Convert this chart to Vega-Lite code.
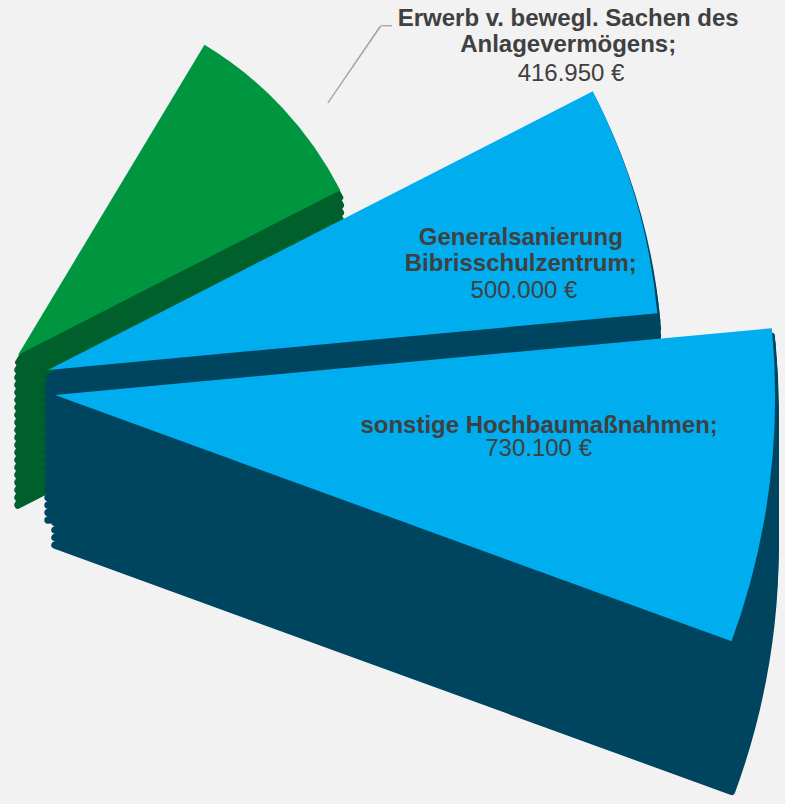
{
"$schema": "https://vega.github.io/schema/vega-lite/v6.json",
"width": 80, "height": 750,
"autosize": "none",
"padding": {"left": 0, "top": 0, "right": 705, "bottom": 54},
"background": "#F2F2F2",
"config": {"view": {"stroke": null}, "locale": {"number": {"decimal": ",", "thousands": ".", "grouping": [3], "currency": ["", "\u00a0€"]}}},
"data": {"values": [
 {"item": "Erwerb v. bewegl. Sachen des Anlagevermögens", "value": 416950, "lines": ["Erwerb v. bewegl. Sachen des", "Anlagevermögens;"]},
 {"item": "Generalsanierung Bibrisschulzentrum", "value": 500000, "lines": ["Generalsanierung", "Bibrisschulzentrum;"]},
 {"item": "sonstige Hochbaumaßnahmen", "value": 730100, "lines": ["sonstige Hochbaumaßnahmen;"]}
]},
"transform": [{"stack": "value", "groupby": [], "as": ["v0", "v1"]}],
"resolve": {"scale": {"theta": "independent", "radius": "independent"}},
"layer": [
 {"encoding": {
   "theta": {"field": "v0", "type": "quantitative", "stack": null, "scale": {"type": "pow", "exponent": 0.66, "domain": [0, 1647050], "range": [0.5411, 1.9199], "nice": false}},
   "theta2": {"field": "v1"},
   "radius": {"field": "value", "type": "quantitative", "scale": {"type": "linear", "domain": [0, 416950, 500000, 730100], "range": [0, 362, 612, 720], "nice": false}}
  },
  "layer": [
   {"transform": [{"filter": "datum.value == 416950"}], "mark": {"type": "arc", "fill": "#00602B", "stroke": "#00602B", "strokeWidth": 7.5, "strokeJoin": "round", "xOffset": -22, "yOffset": 130}},
   {"transform": [{"filter": "datum.value == 416950"}], "mark": {"type": "arc", "fill": "#00602B", "stroke": "#00602B", "strokeWidth": 7.5, "strokeJoin": "round", "xOffset": -22, "yOffset": 122.5}},
   {"transform": [{"filter": "datum.value == 416950"}], "mark": {"type": "arc", "fill": "#00602B", "stroke": "#00602B", "strokeWidth": 7.5, "strokeJoin": "round", "xOffset": -22, "yOffset": 115}},
   {"transform": [{"filter": "datum.value == 416950"}], "mark": {"type": "arc", "fill": "#00602B", "stroke": "#00602B", "strokeWidth": 7.5, "strokeJoin": "round", "xOffset": -22, "yOffset": 107.5}},
   {"transform": [{"filter": "datum.value == 416950"}], "mark": {"type": "arc", "fill": "#00602B", "stroke": "#00602B", "strokeWidth": 7.5, "strokeJoin": "round", "xOffset": -22, "yOffset": 100}},
   {"transform": [{"filter": "datum.value == 416950"}], "mark": {"type": "arc", "fill": "#00602B", "stroke": "#00602B", "strokeWidth": 7.5, "strokeJoin": "round", "xOffset": -22, "yOffset": 92.5}},
   {"transform": [{"filter": "datum.value == 416950"}], "mark": {"type": "arc", "fill": "#00602B", "stroke": "#00602B", "strokeWidth": 7.5, "strokeJoin": "round", "xOffset": -22, "yOffset": 85}},
   {"transform": [{"filter": "datum.value == 416950"}], "mark": {"type": "arc", "fill": "#00602B", "stroke": "#00602B", "strokeWidth": 7.5, "strokeJoin": "round", "xOffset": -22, "yOffset": 77.5}},
   {"transform": [{"filter": "datum.value == 416950"}], "mark": {"type": "arc", "fill": "#00602B", "stroke": "#00602B", "strokeWidth": 7.5, "strokeJoin": "round", "xOffset": -22, "yOffset": 70}},
   {"transform": [{"filter": "datum.value == 416950"}], "mark": {"type": "arc", "fill": "#00602B", "stroke": "#00602B", "strokeWidth": 7.5, "strokeJoin": "round", "xOffset": -22, "yOffset": 62.5}},
   {"transform": [{"filter": "datum.value == 416950"}], "mark": {"type": "arc", "fill": "#00602B", "stroke": "#00602B", "strokeWidth": 7.5, "strokeJoin": "round", "xOffset": -22, "yOffset": 55}},
   {"transform": [{"filter": "datum.value == 416950"}], "mark": {"type": "arc", "fill": "#00602B", "stroke": "#00602B", "strokeWidth": 7.5, "strokeJoin": "round", "xOffset": -22, "yOffset": 47.5}},
   {"transform": [{"filter": "datum.value == 416950"}], "mark": {"type": "arc", "fill": "#00602B", "stroke": "#00602B", "strokeWidth": 7.5, "strokeJoin": "round", "xOffset": -22, "yOffset": 40}},
   {"transform": [{"filter": "datum.value == 416950"}], "mark": {"type": "arc", "fill": "#00602B", "stroke": "#00602B", "strokeWidth": 7.5, "strokeJoin": "round", "xOffset": -22, "yOffset": 32.5}},
   {"transform": [{"filter": "datum.value == 416950"}], "mark": {"type": "arc", "fill": "#00602B", "stroke": "#00602B", "strokeWidth": 7.5, "strokeJoin": "round", "xOffset": -22, "yOffset": 25}},
   {"transform": [{"filter": "datum.value == 416950"}], "mark": {"type": "arc", "fill": "#00602B", "stroke": "#00602B", "strokeWidth": 7.5, "strokeJoin": "round", "xOffset": -22, "yOffset": 17.5}},
   {"transform": [{"filter": "datum.value == 416950"}], "mark": {"type": "arc", "fill": "#00602B", "stroke": "#00602B", "strokeWidth": 7.5, "strokeJoin": "round", "xOffset": -22, "yOffset": 10}},
   {"transform": [{"filter": "datum.value == 416950"}], "mark": {"type": "arc", "fill": "#00602B", "stroke": "#00602B", "strokeWidth": 7.5, "strokeJoin": "round", "xOffset": -22, "yOffset": 2.5}},
   {"transform": [{"filter": "datum.value == 416950"}], "mark": {"type": "arc", "fill": "#00602B", "stroke": "#00602B", "strokeWidth": 7.5, "strokeJoin": "round", "xOffset": -22, "yOffset": -5}},
   {"transform": [{"filter": "datum.value == 416950"}], "mark": {"type": "arc", "fill": "#00602B", "stroke": "#00602B", "strokeWidth": 6, "strokeJoin": "round", "xOffset": -22, "yOffset": -12.5}},
   {"transform": [{"filter": "datum.value == 416950"}], "mark": {"type": "arc", "fill": "#009640", "xOffset": -22, "yOffset": -20}},

   {"transform": [{"filter": "datum.value == 500000"}], "mark": {"type": "arc", "fill": "#00455F", "stroke": "#00455F", "strokeWidth": 7.5, "strokeJoin": "round", "xOffset": 8, "yOffset": 145}},
   {"transform": [{"filter": "datum.value == 500000"}], "mark": {"type": "arc", "fill": "#00455F", "stroke": "#00455F", "strokeWidth": 7.5, "strokeJoin": "round", "xOffset": 8, "yOffset": 137.5}},
   {"transform": [{"filter": "datum.value == 500000"}], "mark": {"type": "arc", "fill": "#00455F", "stroke": "#00455F", "strokeWidth": 7.5, "strokeJoin": "round", "xOffset": 8, "yOffset": 130}},
   {"transform": [{"filter": "datum.value == 500000"}], "mark": {"type": "arc", "fill": "#00455F", "stroke": "#00455F", "strokeWidth": 7.5, "strokeJoin": "round", "xOffset": 8, "yOffset": 122.5}},
   {"transform": [{"filter": "datum.value == 500000"}], "mark": {"type": "arc", "fill": "#00455F", "stroke": "#00455F", "strokeWidth": 7.5, "strokeJoin": "round", "xOffset": 8, "yOffset": 115}},
   {"transform": [{"filter": "datum.value == 500000"}], "mark": {"type": "arc", "fill": "#00455F", "stroke": "#00455F", "strokeWidth": 7.5, "strokeJoin": "round", "xOffset": 8, "yOffset": 107.5}},
   {"transform": [{"filter": "datum.value == 500000"}], "mark": {"type": "arc", "fill": "#00455F", "stroke": "#00455F", "strokeWidth": 7.5, "strokeJoin": "round", "xOffset": 8, "yOffset": 100}},
   {"transform": [{"filter": "datum.value == 500000"}], "mark": {"type": "arc", "fill": "#00455F", "stroke": "#00455F", "strokeWidth": 7.5, "strokeJoin": "round", "xOffset": 8, "yOffset": 92.5}},
   {"transform": [{"filter": "datum.value == 500000"}], "mark": {"type": "arc", "fill": "#00455F", "stroke": "#00455F", "strokeWidth": 7.5, "strokeJoin": "round", "xOffset": 8, "yOffset": 85}},
   {"transform": [{"filter": "datum.value == 500000"}], "mark": {"type": "arc", "fill": "#00455F", "stroke": "#00455F", "strokeWidth": 7.5, "strokeJoin": "round", "xOffset": 8, "yOffset": 77.5}},
   {"transform": [{"filter": "datum.value == 500000"}], "mark": {"type": "arc", "fill": "#00455F", "stroke": "#00455F", "strokeWidth": 7.5, "strokeJoin": "round", "xOffset": 8, "yOffset": 70}},
   {"transform": [{"filter": "datum.value == 500000"}], "mark": {"type": "arc", "fill": "#00455F", "stroke": "#00455F", "strokeWidth": 7.5, "strokeJoin": "round", "xOffset": 8, "yOffset": 62.5}},
   {"transform": [{"filter": "datum.value == 500000"}], "mark": {"type": "arc", "fill": "#00455F", "stroke": "#00455F", "strokeWidth": 7.5, "strokeJoin": "round", "xOffset": 8, "yOffset": 55}},
   {"transform": [{"filter": "datum.value == 500000"}], "mark": {"type": "arc", "fill": "#00455F", "stroke": "#00455F", "strokeWidth": 7.5, "strokeJoin": "round", "xOffset": 8, "yOffset": 47.5}},
   {"transform": [{"filter": "datum.value == 500000"}], "mark": {"type": "arc", "fill": "#00455F", "stroke": "#00455F", "strokeWidth": 7.5, "strokeJoin": "round", "xOffset": 8, "yOffset": 40}},
   {"transform": [{"filter": "datum.value == 500000"}], "mark": {"type": "arc", "fill": "#00455F", "stroke": "#00455F", "strokeWidth": 7.5, "strokeJoin": "round", "xOffset": 8, "yOffset": 32.5}},
   {"transform": [{"filter": "datum.value == 500000"}], "mark": {"type": "arc", "fill": "#00455F", "stroke": "#00455F", "strokeWidth": 7.5, "strokeJoin": "round", "xOffset": 8, "yOffset": 25}},
   {"transform": [{"filter": "datum.value == 500000"}], "mark": {"type": "arc", "fill": "#00455F", "stroke": "#00455F", "strokeWidth": 7.5, "strokeJoin": "round", "xOffset": 8, "yOffset": 17.5}},
   {"transform": [{"filter": "datum.value == 500000"}], "mark": {"type": "arc", "fill": "#00455F", "stroke": "#00455F", "strokeWidth": 7.5, "strokeJoin": "round", "xOffset": 8, "yOffset": 10}},
   {"transform": [{"filter": "datum.value == 500000"}], "mark": {"type": "arc", "fill": "#00455F", "stroke": "#00455F", "strokeWidth": 6, "strokeJoin": "round", "xOffset": 8, "yOffset": 2.5}},
   {"transform": [{"filter": "datum.value == 500000"}], "mark": {"type": "arc", "fill": "#00AEEF", "xOffset": 8, "yOffset": -5}},

   {"transform": [{"filter": "datum.value == 730100"}], "mark": {"type": "arc", "fill": "#00455F", "stroke": "#00455F", "strokeWidth": 7.5, "strokeJoin": "round", "xOffset": 15, "yOffset": 170}},
   {"transform": [{"filter": "datum.value == 730100"}], "mark": {"type": "arc", "fill": "#00455F", "stroke": "#00455F", "strokeWidth": 7.5, "strokeJoin": "round", "xOffset": 15, "yOffset": 162.5}},
   {"transform": [{"filter": "datum.value == 730100"}], "mark": {"type": "arc", "fill": "#00455F", "stroke": "#00455F", "strokeWidth": 7.5, "strokeJoin": "round", "xOffset": 15, "yOffset": 155}},
   {"transform": [{"filter": "datum.value == 730100"}], "mark": {"type": "arc", "fill": "#00455F", "stroke": "#00455F", "strokeWidth": 7.5, "strokeJoin": "round", "xOffset": 15, "yOffset": 147.5}},
   {"transform": [{"filter": "datum.value == 730100"}], "mark": {"type": "arc", "fill": "#00455F", "stroke": "#00455F", "strokeWidth": 7.5, "strokeJoin": "round", "xOffset": 15, "yOffset": 140}},
   {"transform": [{"filter": "datum.value == 730100"}], "mark": {"type": "arc", "fill": "#00455F", "stroke": "#00455F", "strokeWidth": 7.5, "strokeJoin": "round", "xOffset": 15, "yOffset": 132.5}},
   {"transform": [{"filter": "datum.value == 730100"}], "mark": {"type": "arc", "fill": "#00455F", "stroke": "#00455F", "strokeWidth": 7.5, "strokeJoin": "round", "xOffset": 15, "yOffset": 125}},
   {"transform": [{"filter": "datum.value == 730100"}], "mark": {"type": "arc", "fill": "#00455F", "stroke": "#00455F", "strokeWidth": 7.5, "strokeJoin": "round", "xOffset": 15, "yOffset": 117.5}},
   {"transform": [{"filter": "datum.value == 730100"}], "mark": {"type": "arc", "fill": "#00455F", "stroke": "#00455F", "strokeWidth": 7.5, "strokeJoin": "round", "xOffset": 15, "yOffset": 110}},
   {"transform": [{"filter": "datum.value == 730100"}], "mark": {"type": "arc", "fill": "#00455F", "stroke": "#00455F", "strokeWidth": 7.5, "strokeJoin": "round", "xOffset": 15, "yOffset": 102.5}},
   {"transform": [{"filter": "datum.value == 730100"}], "mark": {"type": "arc", "fill": "#00455F", "stroke": "#00455F", "strokeWidth": 7.5, "strokeJoin": "round", "xOffset": 15, "yOffset": 95}},
   {"transform": [{"filter": "datum.value == 730100"}], "mark": {"type": "arc", "fill": "#00455F", "stroke": "#00455F", "strokeWidth": 7.5, "strokeJoin": "round", "xOffset": 15, "yOffset": 87.5}},
   {"transform": [{"filter": "datum.value == 730100"}], "mark": {"type": "arc", "fill": "#00455F", "stroke": "#00455F", "strokeWidth": 7.5, "strokeJoin": "round", "xOffset": 15, "yOffset": 80}},
   {"transform": [{"filter": "datum.value == 730100"}], "mark": {"type": "arc", "fill": "#00455F", "stroke": "#00455F", "strokeWidth": 7.5, "strokeJoin": "round", "xOffset": 15, "yOffset": 72.5}},
   {"transform": [{"filter": "datum.value == 730100"}], "mark": {"type": "arc", "fill": "#00455F", "stroke": "#00455F", "strokeWidth": 7.5, "strokeJoin": "round", "xOffset": 15, "yOffset": 65}},
   {"transform": [{"filter": "datum.value == 730100"}], "mark": {"type": "arc", "fill": "#00455F", "stroke": "#00455F", "strokeWidth": 7.5, "strokeJoin": "round", "xOffset": 15, "yOffset": 57.5}},
   {"transform": [{"filter": "datum.value == 730100"}], "mark": {"type": "arc", "fill": "#00455F", "stroke": "#00455F", "strokeWidth": 7.5, "strokeJoin": "round", "xOffset": 15, "yOffset": 50}},
   {"transform": [{"filter": "datum.value == 730100"}], "mark": {"type": "arc", "fill": "#00455F", "stroke": "#00455F", "strokeWidth": 7.5, "strokeJoin": "round", "xOffset": 15, "yOffset": 42.5}},
   {"transform": [{"filter": "datum.value == 730100"}], "mark": {"type": "arc", "fill": "#00455F", "stroke": "#00455F", "strokeWidth": 7.5, "strokeJoin": "round", "xOffset": 15, "yOffset": 35}},
   {"transform": [{"filter": "datum.value == 730100"}], "mark": {"type": "arc", "fill": "#00455F", "stroke": "#00455F", "strokeWidth": 6, "strokeJoin": "round", "xOffset": 15, "yOffset": 27.5}},
   {"transform": [{"filter": "datum.value == 730100"}], "mark": {"type": "arc", "fill": "#00AEEF", "xOffset": 15, "yOffset": 20}}
  ]
 },
 {"transform": [{"filter": "datum.value == 416950"}],
  "encoding": {
   "theta": {"field": "v0", "type": "quantitative", "stack": null, "scale": {"type": "linear", "domain": [0, 416950], "range": [0.5999, 0.6043], "nice": false, "zero": false}},
   "theta2": {"field": "v1"}
  },
  "mark": {"type": "arc", "fill": "#A6A6A6", "radius": 393, "radius2": 300, "xOffset": 118, "yOffset": -25}
 },
 {"transform": [{"filter": "datum.value == 416950"}],
  "encoding": {
   "theta": {"field": "v0", "type": "quantitative", "stack": null, "scale": {"type": "linear", "domain": [0, 416950], "range": [1.5633, 1.5783], "nice": false, "zero": false}},
   "theta2": {"field": "v1"}
  },
  "mark": {"type": "arc", "fill": "#A6A6A6", "radius": 92, "radius2": 81, "xOffset": 260, "yOffset": -349.3}
 },
 {"encoding": {
   "theta": {"field": "value", "type": "quantitative", "stack": true, "scale": {"type": "pow", "exponent": 0.86, "domain": [0, 1647050], "range": [0.8016, 1.9000], "nice": false}},
   "radius": {"field": "value", "type": "quantitative", "scale": {"type": "linear", "domain": [416950, 500000, 730100], "range": [632.9, 498.1, 502.5], "zero": false, "nice": false}},
   "order": {"field": "item", "type": "ordinal"},
   "text": {"field": "lines"}
  },
  "mark": {"type": "text", "font": "Liberation Sans", "fontSize": 24, "fontWeight": "bold", "fill": "#404040", "align": "center", "baseline": "alphabetic", "lineHeight": 26}
 },
 {"encoding": {
   "theta": {"field": "value", "type": "quantitative", "stack": true, "scale": {"type": "pow", "exponent": 0.55, "domain": [0, 1647050], "range": [0.6760, 1.8888], "nice": false}},
   "radius": {"field": "value", "type": "quantitative", "scale": {"type": "linear", "domain": [416950, 500000, 730100], "range": [607.0, 490.0, 505.2], "zero": false, "nice": false}},
   "order": {"field": "item", "type": "ordinal"},
   "text": {"field": "value", "type": "quantitative", "format": "$,"}
  },
  "mark": {"type": "text", "font": "Liberation Sans", "fontSize": 24, "fill": "#404040", "align": "center", "baseline": "alphabetic"}
 }
]
}
